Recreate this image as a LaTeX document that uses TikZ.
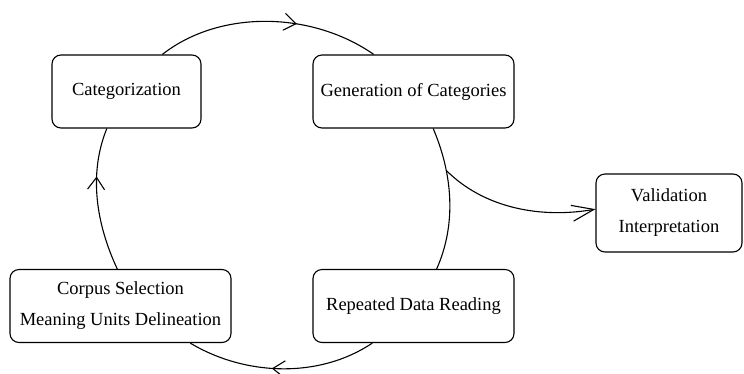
\documentclass[tikz,border=0pt]{standalone}
\usepackage{fontspec}
\setmainfont{Liberation Serif}
\usetikzlibrary{arrows.meta,decorations.markings}
\tikzset{
    stage/.style =  {rectangle,
                    rounded corners=9pt,
                    fill=white,
                    draw=black,
                    text=black,
                    line width=1.1pt,
                    align=center,
                    minimum height=73pt,
                    font=\fontsize{18.5}{31}\selectfont},
    flow/.style =   {postaction={decorate},
                    decoration={markings,
                                mark=at position #1 with {\arrow{>}}}},
    -,
    >={Straight Barb[length=12pt,width=17pt]},
    looseness=0.9}

\begin{document}
\begin{tikzpicture}[x=1pt,y=1pt,line width=1.1pt,node distance=287pt]
                \useasboundingbox (0,0) rectangle (744,-373);
                \node[stage,minimum width=149pt]    (cat)    at (126.5,-91.5)  {Categorization};
                \node[stage,minimum width=201pt]    (gen)    [right of=cat]    {Generation of Categories};
                \node[stage,minimum width=221pt]    (corpus) [node distance=214.5pt,below of=cat,xshift=-6pt]
                                                             {Corpus Selection\\Meaning Units Delineation};
                \node[stage,minimum width=201pt]    (rep)    [node distance=214.5pt,below of=gen]
                                                             {Repeated Data Reading};
                \node[stage,minimum width=146pt,minimum height=78pt]
                                                    (val)    [node distance=255.5pt,right of=gen,yshift=-121.5pt]
                                                             {Validation\\Interpretation};
                \path   (corpus.95)  edge [out=115,in=248,flow=0.66]   (cat.242)
                        (cat.46)     edge [out=38,in=145,flow=0.63]    (gen.137)
                        (gen.298)    edge [out=-67,in=66]  coordinate [pos=0.3] (fork)  (rep.58)
                        (rep.222)    edge [out=214,in=329,flow=0.55]   (corpus.332);
                \path   (fork)       edge [out=-45,in=190,-{Straight Barb[length=22pt,width=16pt]}] (val.177);
        \end{tikzpicture}
\end{document}
